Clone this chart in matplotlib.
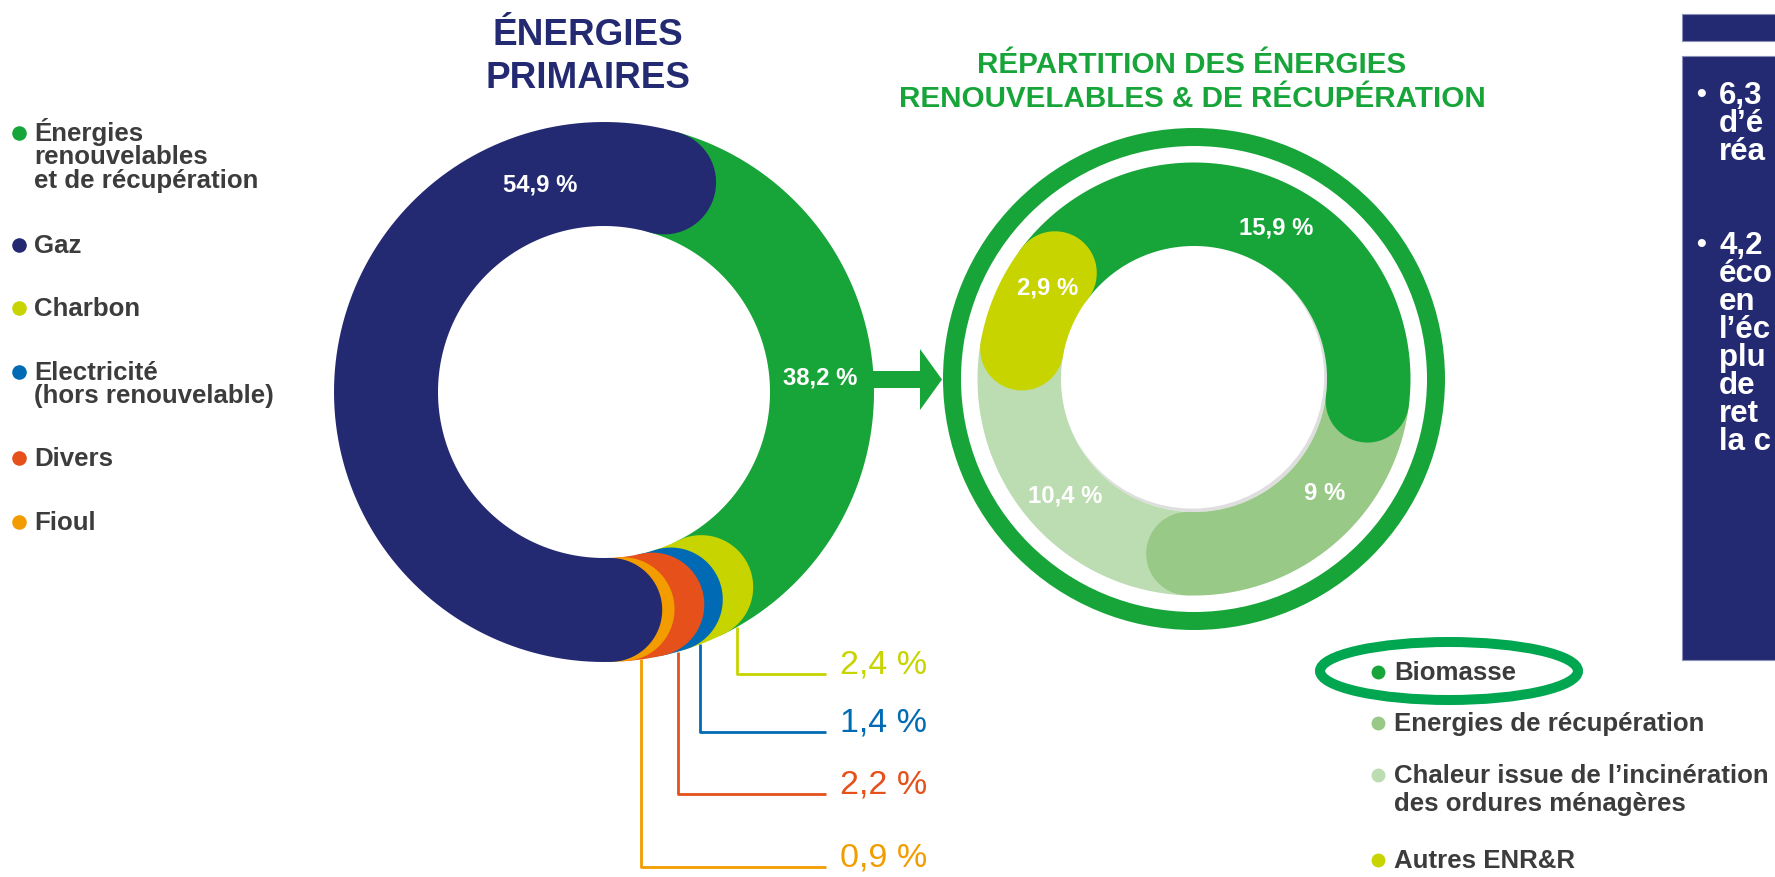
import numpy as np
import matplotlib
matplotlib.use("Agg")
import matplotlib.pyplot as plt
from matplotlib.patches import Polygon, Circle, Rectangle, Ellipse
from matplotlib import font_manager as fm

# ---------------- données ----------------
prim_legend = [["Énergies", "renouvelables", "et de récupération"], ["Gaz"], ["Charbon"],
               ["Electricité", "(hors renouvelable)"], ["Divers"], ["Fioul"]]
prim_values = [38.2, 54.9, 2.4, 1.4, 2.2, 0.9]
prim_colors = ["#17a539", "#242a72", "#c8d400", "#006bb4", "#e6501a", "#f39c00"]

enr_legend = [["Biomasse"], ["Energies de récupération"],
              ["Chaleur issue de l’incinération", "des ordures ménagères"], ["Autres ENR&R"]]
enr_values = [15.9, 9, 10.4, 2.9]
enr_colors = ["#17a539", "#98c986", "#bcdcb2", "#c8d400"]

panel_lines = [["• ", "6,3"], ["", "d’é"], ["", "réa"],
               ["• ", "4,2"], ["", "éco"], ["", "en"], ["", "l’éc"], ["", "plu"],
               ["", "de"], ["", "ret"], ["", "la c"]]

NAVY = "#242a72"
GREEN = "#17a539"
GREY = "#3c3c3c"

names = {f.name for f in fm.fontManager.ttflist}
if "Liberation Sans Narrow" in names:
    NARROW, NK = "Liberation Sans Narrow", 1.0
else:
    NARROW, NK = "Liberation Sans", 0.86
SANS = "Liberation Sans"


def pct(v):
    return ("%g" % v).replace(".", ",") + " %"


def rounded_arc(cx, cy, rmid, hw, a_lo, a_hi):
    th = np.radians(np.linspace(a_lo, a_hi, 120))
    ox, oy = (rmid + hw) * np.cos(th), (rmid + hw) * np.sin(th)
    ix, iy = (rmid - hw) * np.cos(th[::-1]), (rmid - hw) * np.sin(th[::-1])

    def cap(a, phi):
        t = np.radians(a)
        n = np.array([np.cos(t), np.sin(t)])
        tv = np.array([-np.sin(t), np.cos(t)])
        p = rmid * n
        return (p[0] + hw * (np.cos(phi) * n[0] + np.sin(phi) * tv[0]),
                p[1] + hw * (np.cos(phi) * n[1] + np.sin(phi) * tv[1]))

    hx, hy = cap(a_hi, np.linspace(0, np.pi, 40))
    lx, ly = cap(a_lo, np.linspace(np.pi, 2 * np.pi, 40))
    X = np.concatenate([ox, hx, ix, lx])
    Y = np.concatenate([oy, hy, iy, ly])
    return np.column_stack([cx + X, cy - Y])


def ring_angles(values, seq, start):
    # angles parcourus dans le sens horaire à partir de start
    k = 360.0 / sum(values)
    ang = {}
    cum = 0
    for i in seq:
        hi = start - cum * k
        ang[i] = (hi - values[i] * k, hi)
        cum += values[i]
    return ang


fig = plt.figure(figsize=(17.75, 8.78), dpi=100)
ax = fig.add_axes([0, 0, 1, 1])
ax.set_xlim(0, 1775)
ax.set_ylim(878, 0)
ax.axis("off")

# ---------------- donut énergies primaires ----------------
c1x, c1y, R1, r1 = 604, 393, 270, 166
mid1, hw1 = (R1 + r1) / 2, (R1 - r1) / 2
seq1 = [0, 2, 3, 4, 5, 1]
ang1 = ring_angles(prim_values, seq1, 74)
for i in seq1:
    ax.add_patch(Polygon(rounded_arc(c1x, c1y, mid1, hw1, *ang1[i]), closed=True,
                         facecolor=prim_colors[i], edgecolor="none"))

# étiquettes blanches
for i, a in [(1, 107), (0, 4)]:
    t = np.radians(a)
    ax.text(c1x + 217 * np.cos(t), c1y - 217 * np.sin(t), pct(prim_values[i]),
            color="white", fontsize=20 * NK, family=NARROW, fontweight="bold",
            ha="center", va="center")

# lignes de rappel
lab_y = [665, 723, 785, 858]
for j, i in enumerate([2, 3, 4, 5]):
    a = np.radians(ang1[i][1] + 3)
    x0, y0 = c1x + R1 * np.cos(a), c1y - R1 * np.sin(a)
    ly = lab_y[j] + 10
    ax.plot([x0, x0, 826], [y0, ly, ly], color=prim_colors[i], lw=2, solid_capstyle="butt")
    ax.text(840, lab_y[j], pct(prim_values[i]), color=prim_colors[i],
            fontsize=28.5 * NK, family=NARROW, ha="left", va="center")

# titre gauche
ax.text(588, 45, "ÉNERGIES", color=NAVY, fontsize=26.6, family=SANS,
        fontweight="bold", ha="center", va="baseline")
ax.text(588, 88, "PRIMAIRES", color=NAVY, fontsize=26.6, family=SANS,
        fontweight="bold", ha="center", va="baseline")

# légende gauche
leg_y = [133, 245, 308, 372, 458, 522]
for i, lines in enumerate(prim_legend):
    ax.plot(19, leg_y[i] + 1, "o", ms=10.5, color=prim_colors[i], mec="none")
    for k, s in enumerate(lines):
        ax.text(34, leg_y[i] + 8 + k * 23.5, s, color=GREY, fontsize=18.6,
                family=SANS, fontweight="bold", ha="left", va="baseline")

# flèche
ax.add_patch(Polygon([(c1x + R1 - 2, 372), (920, 372), (920, 350), (942, 380.5),
                      (920, 411), (920, 389), (c1x + R1 - 2, 389)],
                     closed=True, facecolor=GREEN, edgecolor="none"))

# ---------------- donut ENR&R ----------------
c2x, c2y, R2, r2 = 1194, 380, 216.5, 133
mid2, hw2 = (R2 + r2) / 2, (R2 - r2) / 2

# ombre légère en bas à droite du trou
for off in [9, 6, 3]:
    ax.add_patch(Circle((c2x, c2y), r2, facecolor="#000000", alpha=0.045, edgecolor="none"))
    ax.add_patch(Circle((c2x - off * 0.6, c2y - off * 0.8), r2 - 1,
                        facecolor="white", edgecolor="none"))

seq2 = [3, 0, 1, 2]
ang2 = ring_angles(enr_values, seq2, 170)
for i in [2, 1, 0, 3]:
    ax.add_patch(Polygon(rounded_arc(c2x, c2y, mid2, hw2, *ang2[i]), closed=True,
                         facecolor=enr_colors[i], edgecolor="none"))

ax.add_patch(Circle((c2x, c2y), 242, fill=False, edgecolor=GREEN, lw=18 * 0.72))

for i, a in [(0, 61.7), (3, 148), (2, 222), (1, -41)]:
    t = np.radians(a)
    ax.text(c2x + 173 * np.cos(t), c2y - 173 * np.sin(t), pct(enr_values[i]),
            color="white", fontsize=20 * NK, family=NARROW, fontweight="bold",
            ha="center", va="center")

ax.text(1192, 73, "RÉPARTITION DES ÉNERGIES", color=GREEN, fontsize=21.3,
        family=SANS, fontweight="bold", ha="center", va="baseline")
ax.text(1192, 107, "RENOUVELABLES & DE RÉCUPÉRATION", color=GREEN, fontsize=21.3,
        family=SANS, fontweight="bold", ha="center", va="baseline")

# légende droite
leg2_y = [672, 723, 775, 860]
for i, lines in enumerate(enr_legend):
    ax.plot(1378, leg2_y[i] + 1, "o", ms=10, color=enr_colors[i], mec="none")
    for k, s in enumerate(lines):
        ax.text(1394, leg2_y[i] + 8 + k * 28, s, color=GREY, fontsize=18.6,
                family=SANS, fontweight="bold", ha="left", va="baseline")
ax.add_patch(Ellipse((1449, 672), 258, 58, fill=False, edgecolor="#00a650", lw=10 * 0.72))

# ---------------- encadré bleu (coupé à droite) ----------------
ax.add_patch(Rectangle((1682, 15), 200, 27, facecolor=NAVY, edgecolor="#8a8fb8", lw=0.8))
ax.add_patch(Rectangle((1682, 57), 200, 604, facecolor=NAVY, edgecolor="#8a8fb8", lw=0.8))
py = [104, 132, 160, 254, 282, 310, 338, 366, 394, 422, 450]
for (b, s), y in zip(panel_lines, py):
    if b:
        ax.text(1701, y - 2, "•", color="white", fontsize=20, family=SANS,
                fontweight="bold", ha="center", va="baseline")
    ax.text(1719, y, s, color="white", fontsize=22.5, family=SANS,
            fontweight="bold", ha="left", va="baseline")

fig.savefig("out.png", dpi=100)
